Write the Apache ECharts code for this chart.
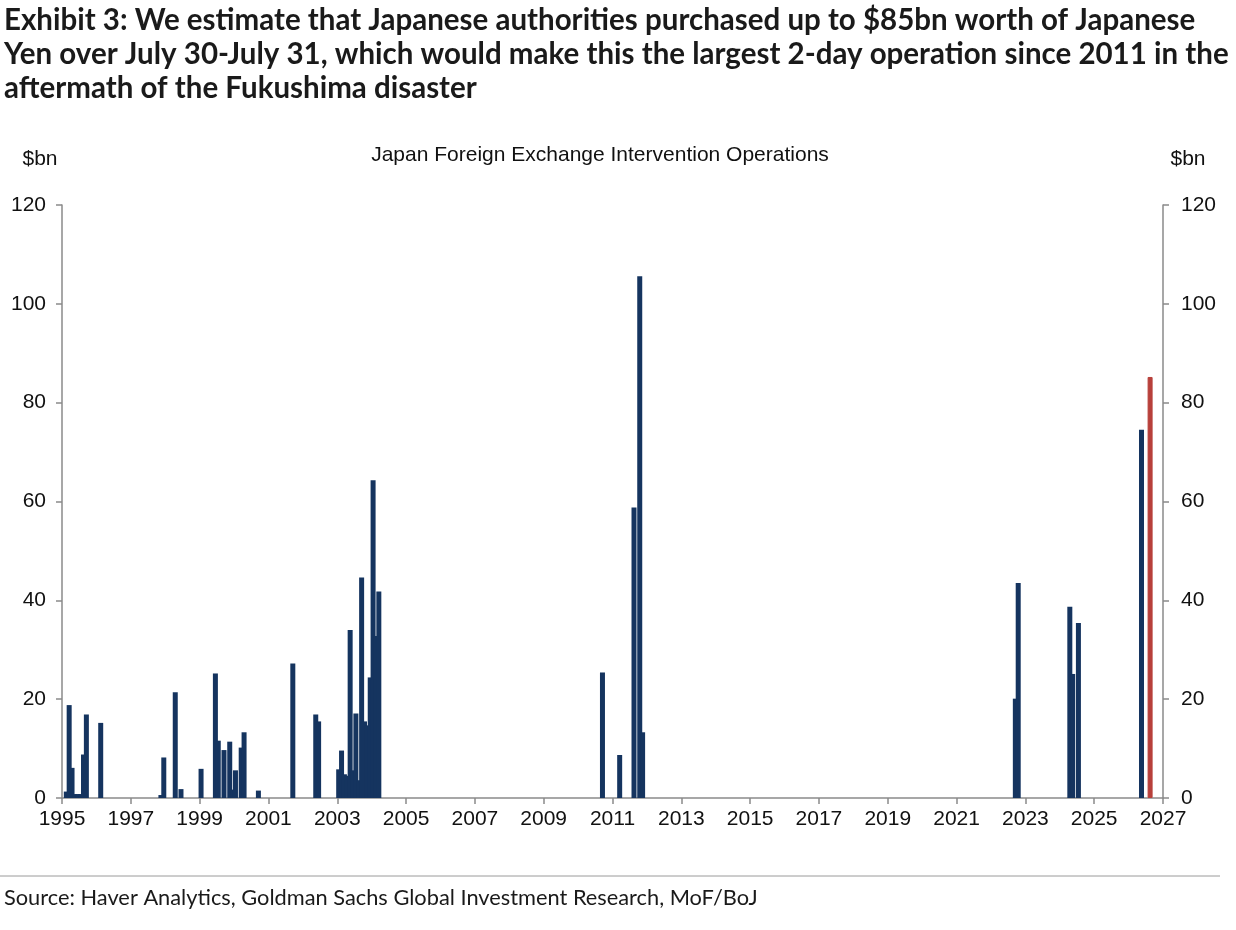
<!DOCTYPE html>
<html>
<head>
<meta charset="utf-8">
<script src="https://cdn.jsdelivr.net/npm/echarts@6/dist/echarts.min.js"></script>
<style>
  html, body { margin: 0; padding: 0; background: #fff; }
  #chart { width: 1236px; height: 930px; }
</style>
</head>
<body>
<div id="chart"></div>
<script>
// monthly intervention purchases, $bn
const dates = [
  '1995-02', '1995-03', '1995-04', '1995-05', '1995-06', '1995-07', '1995-08', '1995-09',
  '1996-02', '1997-11', '1997-12', '1998-04', '1998-06',
  '1999-01', '1999-06', '1999-07', '1999-09', '1999-11', '1999-12',
  '2000-01', '2000-03', '2000-04', '2000-09', '2001-09', '2002-05', '2002-06',
  '2003-01', '2003-02', '2003-03', '2003-04', '2003-05', '2003-06', '2003-07', '2003-08',
  '2003-09', '2003-10', '2003-11', '2003-12', '2004-01', '2004-02', '2004-03',
  '2010-09', '2011-03', '2011-08', '2011-10', '2011-11',
  '2022-09', '2022-10', '2024-04', '2024-05', '2024-07', '2026-05'
]
const purchases = [
  1.3, 18.8, 6.1, 0.8, 0.8, 0.8, 8.8, 16.9,
  15.2, 0.6, 8.2, 21.4, 1.8,
  5.9, 25.2, 11.6, 9.7, 11.4, 1.7,
  5.6, 10.2, 13.3, 1.5, 27.2, 16.9, 15.5,
  5.8, 9.6, 4.8, 4.5, 34.0, 5.6, 17.1, 3.6,
  44.6, 15.5, 14.7, 24.4, 64.3, 32.8, 41.8,
  25.4, 8.7, 58.8, 105.6, 13.3,
  20.1, 43.5, 38.7, 25.1, 35.4, 74.5
]
// GS estimate for July 30-31
const estimateDate = '2026-08'
const estimateValue = 85.2

const yearLabels = ['1995', '1997', '1999', '2001', '2003', '2005', '2007', '2009', '2011',
  '2013', '2015', '2017', '2019', '2021', '2023', '2025', '2027']

const BLUE = '#15345f'
const RED = '#b8403b'
const AXIS = '#8a8a8a'
const START = 1995

// position of a month in years from the start of the axis
const toX = d => {
  const [y, m] = d.split('-').map(Number)
  return y - START + (m - 0.5) / 12
}

const barData = dates.map((d, i) => [toX(d), purchases[i]])
barData.push({
  value: [toX(estimateDate), estimateValue],
  itemStyle: { color: RED, borderColor: RED, borderWidth: 1 }
})

const axisText = { color: '#111', fontFamily: 'Liberation Sans', fontSize: 21 }

const yAxisBase = {
  type: 'value',
  min: 0,
  max: 120,
  interval: 20,
  splitLine: { show: false },
  axisLine: { show: true, lineStyle: { color: AXIS, width: 1.5 } },
  axisTick: { show: true, length: 6, lineStyle: { color: AXIS, width: 1.5 } }
}

const chart = echarts.init(document.getElementById('chart'), null, { renderer: 'canvas' })
chart.setOption({
  animation: false,
  backgroundColor: '#fff',
  grid: { left: 62, right: 73, top: 205, bottom: 132 },
  xAxis: {
    type: 'value',
    min: 0,
    max: (yearLabels.length - 1) * 2,
    interval: 2,
    splitLine: { show: false },
    axisLine: { show: true, lineStyle: { color: AXIS, width: 1.5 } },
    axisTick: { show: true, length: 6, lineStyle: { color: AXIS, width: 1.5 } },
    axisLabel: {
      ...axisText,
      margin: 11,
      formatter: v => yearLabels[Math.round(v / 2)]
    }
  },
  yAxis: [
    { ...yAxisBase, position: 'left', axisLabel: { ...axisText, margin: 16 } },
    { ...yAxisBase, position: 'right', axisLabel: { ...axisText, margin: 18 } }
  ],
  series: [{
    type: 'bar',
    yAxisIndex: 0,
    barWidth: 5,
    itemStyle: { color: BLUE },
    data: barData
  }],
  graphic: [
    {
      type: 'text',
      left: 4,
      top: 3,
      style: {
        text: 'Exhibit 3: We estimate that Japanese authorities purchased up to $85bn worth of Japanese\n' +
          'Yen over July 30-July 31, which would make this the largest 2-day operation since 2011 in the\n' +
          'aftermath of the Fukushima disaster',
        fontFamily: 'Lato',
        fontWeight: 'bold',
        fontSize: 29.5,
        lineHeight: 34,
        fill: '#1a1a1a'
      }
    },
    {
      type: 'text',
      x: 600,
      y: 155,
      style: {
        text: 'Japan Foreign Exchange Intervention Operations',
        fontFamily: 'Liberation Sans',
        fontSize: 21,
        fill: '#111',
        align: 'center',
        verticalAlign: 'middle'
      }
    },
    {
      type: 'text',
      x: 40,
      y: 159,
      style: { text: '$bn', fontFamily: 'Liberation Sans', fontSize: 21, fill: '#111', align: 'center', verticalAlign: 'middle' }
    },
    {
      type: 'text',
      x: 1188,
      y: 159,
      style: { text: '$bn', fontFamily: 'Liberation Sans', fontSize: 21, fill: '#111', align: 'center', verticalAlign: 'middle' }
    },
    {
      type: 'line',
      shape: { x1: 0, y1: 876, x2: 1220, y2: 876 },
      style: { stroke: '#9a9a9a', lineWidth: 1 }
    },
    {
      type: 'text',
      left: 4,
      top: 887,
      style: {
        text: 'Source: Haver Analytics, Goldman Sachs Global Investment Research, MoF/BoJ',
        fontFamily: 'Lato',
        fontSize: 21.8,
        fill: '#1a1a1a'
      }
    }
  ]
})
</script>
</body>
</html>
